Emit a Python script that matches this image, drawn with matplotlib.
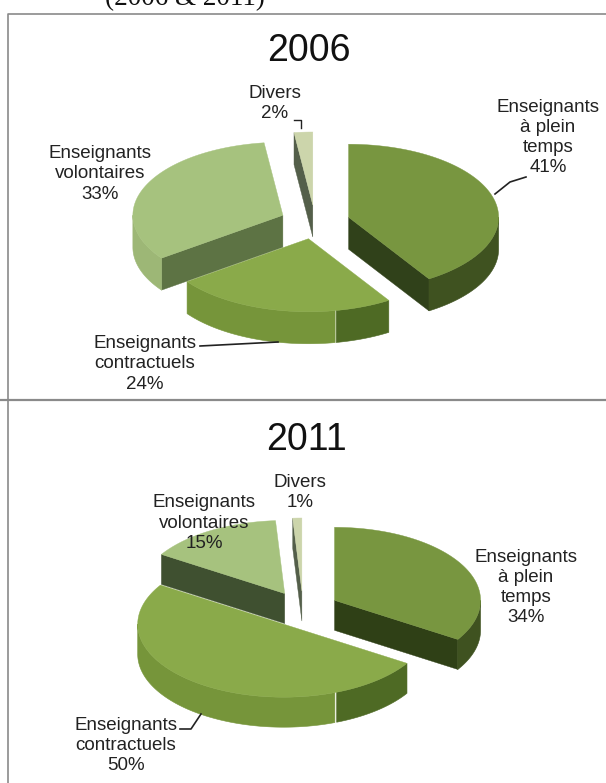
import matplotlib
matplotlib.use("Agg")
import matplotlib.pyplot as plt
import numpy as np
from matplotlib.patches import Polygon

plt.rcParams['font.family'] = ['Liberation Sans', 'DejaVu Sans']

categories = ["Enseignants\nà plein\ntemps", "Enseignants\ncontractuels", "Enseignants\nvolontaires", "Divers"]
values_2006 = [41, 24, 33, 2]
values_2011 = [34, 50, 15, 1]

# top, rim in the light, rim in the shade
colors = [
    ("#789640", "#3f5220", "#3f5220"),
    ("#8aaa4a", "#76953a", "#4e6a24"),
    ("#a6c27e", "#9db776", "#9db776"),
    ("#ccd5ab", "#b8c498", "#b8c498"),
]
cut_2006 = ["#30411a", "#4e6a24", "#5d7344", "#545f4a"]
cut_2011 = ["#2f4016", "#4e6a24", "#3f5030", "#545f4a"]
draw_order = [3, 2, 0, 1]
x_ombre = 336


def ground(cx, cy, rx, ry, angle):
    # angle in degrees, clockwise from 12 o'clock
    a = np.radians(angle)
    return cx + rx * np.sin(a), cy - ry * np.cos(a)


def bande(ax, xs, ys, depth, color):
    if len(xs) < 2:
        return
    pts = list(zip(xs, ys)) + list(zip(xs[::-1], ys[::-1] + depth))
    ax.add_patch(Polygon(pts, closed=True, fc=color, ec=color, lw=0.4, zorder=2))


def tracer_camembert(ax, values, cuts, cx, cy, rx, ry, depth, explode):
    total = sum(values)
    starts = np.cumsum([0] + list(values))[:-1] * 360.0 / total
    spans = np.array(values) * 360.0 / total
    for i in draw_order:
        start, end = starts[i], starts[i] + spans[i]
        mid = (start + end) / 2
        ox, oy = ground(0, 0, explode, explode * ry / rx, mid)
        px, py = cx + ox, cy + oy
        top, rim_light, rim_shade = colors[i]

        # faces of the cut, visible only when turned to the front
        for angle, visible in ((start, np.sin(np.radians(start)) < -1e-6),
                               (end, np.sin(np.radians(end)) > 1e-6)):
            if visible:
                ex, ey = ground(px, py, rx, ry, angle)
                ax.add_patch(Polygon([(px, py), (ex, ey), (ex, ey + depth), (px, py + depth)],
                                     closed=True, fc=cuts[i], ec=cuts[i], lw=0.3, zorder=2))

        # outer rim, only the front half of the ellipse
        lo, hi = max(start, 90), min(end, 270)
        if lo < hi:
            t = np.linspace(lo, hi, 200)
            xs, ys = ground(px, py, rx, ry, t)
            light = xs <= x_ombre
            bande(ax, xs[light], ys[light], depth, rim_light)
            bande(ax, xs[~light], ys[~light], depth, rim_shade)

        # top surface
        t = np.linspace(start, end, 120)
        xs, ys = ground(px, py, rx, ry, t)
        pts = [(px, py)] + list(zip(xs, ys))
        ax.add_patch(Polygon(pts, closed=True, fc=top, ec=top, lw=0.3, zorder=3))


def label(ax, x, y, s, size=13.5):
    ax.text(x, y, s, ha="center", va="center", fontsize=size, color="#222222",
            linespacing=1.24, zorder=5)


fig = plt.figure(figsize=(6.06, 7.83), dpi=100, facecolor="white")
ax = fig.add_axes([0, 0, 1, 1])
ax.set_xlim(0, 606)
ax.set_ylim(783, 0)
ax.axis("off")

# heading of the page, running off the top edge
ax.text(185, 5, "(2006 & 2011)", ha="center", va="baseline", fontsize=19.5,
        family="Liberation Serif", color="#111111", clip_on=True)

# frames of the two charts
ax.plot([7.5, 7.5, 606], [783, 14, 14], color="#8a8a8a", lw=1.2, zorder=1)
ax.plot([0, 606], [399.5, 399.5], color="#8a8a8a", lw=1.6, zorder=1)

tracer_camembert(ax, values_2006, cut_2006, 315, 222, 150, 73, 32, 35)
tracer_camembert(ax, values_2011, cut_2011, 303, 609, 146, 73, 30, 36)

ax.text(309, 51, "2006", ha="center", va="center", fontsize=27, color="#111111")
ax.text(307, 440, "2011", ha="center", va="center", fontsize=27, color="#111111")

# labels 2006
label(ax, 548, 137.5, f"{categories[0]}\n{values_2006[0]}%")
label(ax, 145, 364, f"{categories[1]}\n{values_2006[1]}%")
label(ax, 100, 174, f"{categories[2]}\n{values_2006[2]}%")
label(ax, 275, 103.5, f"{categories[3]}\n{values_2006[3]}%")

# labels 2011
label(ax, 526, 587.5, f"{categories[0]}\n{values_2011[0]}%")
label(ax, 126, 745.5, f"{categories[1]}\n{values_2011[1]}%")
label(ax, 204, 523, f"{categories[2]}\n{values_2011[2]}%")
label(ax, 300, 492.5, f"{categories[3]}\n{values_2011[3]}%")

# leader lines
ax.plot([495, 510, 526], [194, 182, 177], color="#222222", lw=1.2, zorder=4)
ax.plot([200, 278], [346, 342], color="#222222", lw=1.2, zorder=4)
ax.plot([294, 301, 301], [120, 120, 128], color="#222222", lw=1.0, zorder=4)
ax.plot([180, 191, 201], [729, 729, 714], color="#222222", lw=1.2, zorder=4)

fig.savefig("out.png", dpi=100)
